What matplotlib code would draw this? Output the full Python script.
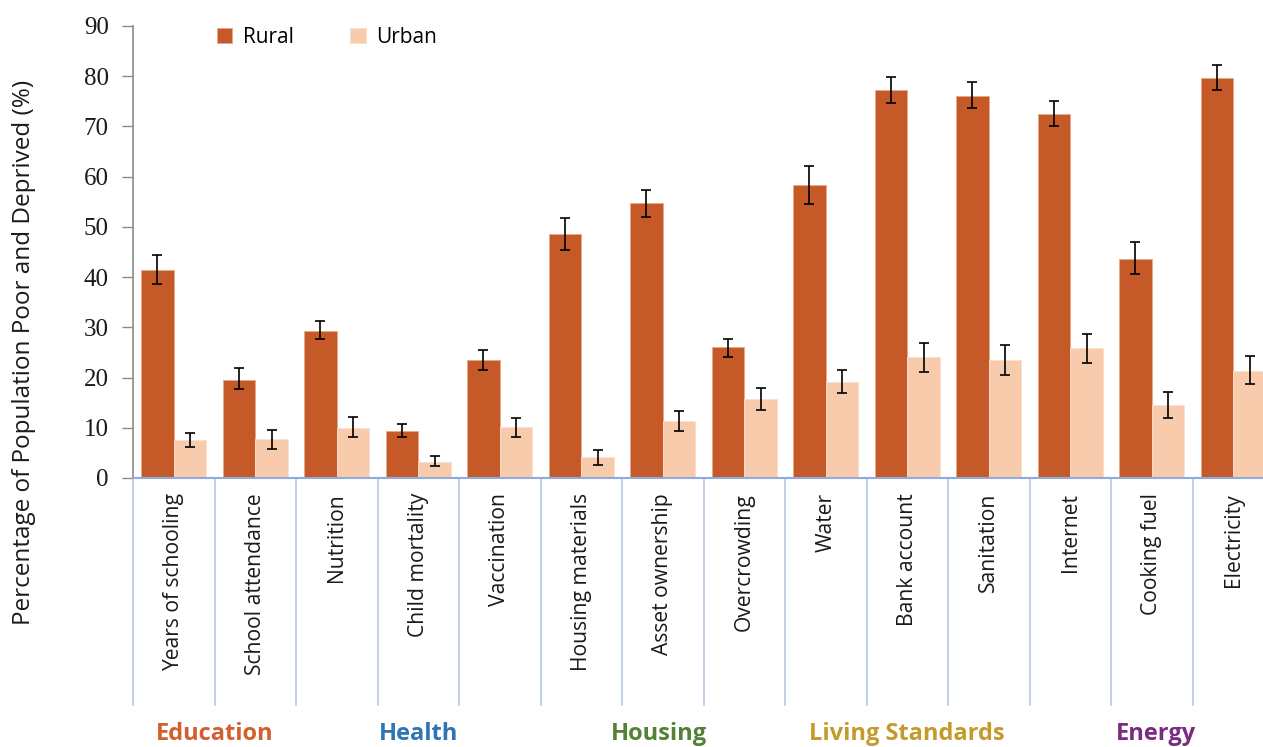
import numpy as np
import matplotlib.pyplot as plt
import matplotlib.transforms as mtransforms

# Deprivation indicators
categories = ["Years of schooling", "School attendance", "Nutrition", "Child mortality",
              "Vaccination", "Housing materials", "Asset ownership", "Overcrowding",
              "Water", "Bank account", "Sanitation", "Internet", "Cooking fuel", "Electricity"]

rural = [41.5, 19.6, 29.3, 9.3, 23.5, 48.5, 54.7, 26.0, 58.3, 77.3, 76.0, 72.4, 43.6, 79.6]
rural_lo = [38.7, 17.8, 27.6, 8.1, 21.5, 45.3, 51.9, 24.1, 54.5, 74.7, 73.6, 70.0, 40.6, 77.2]
rural_hi = [44.4, 21.9, 31.2, 10.8, 25.5, 51.8, 57.4, 27.7, 62.1, 79.9, 78.8, 75.0, 46.9, 82.2]

urban = [7.5, 7.8, 10.0, 3.2, 10.1, 4.2, 11.4, 15.7, 19.1, 24.0, 23.5, 25.8, 14.5, 21.4]
urban_lo = [6.1, 5.8, 8.1, 2.3, 8.2, 2.5, 9.4, 13.5, 17.0, 21.1, 20.5, 22.8, 12.0, 18.7]
urban_hi = [9.0, 9.5, 12.1, 4.3, 12.0, 5.6, 13.4, 18.0, 21.6, 26.8, 26.5, 28.7, 17.2, 24.3]

groups = ["Education", "Health", "Housing", "Living Standards", "Energy"]
group_pos = [0.5, 3.0, 5.95, 9.0, 12.05]
group_colors = ["#D0602E", "#2E75B6", "#548235", "#C49A2C", "#7B2C82"]

rural_color = "#C55A28"
urban_color = "#F8CBAD"

fig = plt.figure(figsize=(12.63, 7.47), dpi=100)
ax = fig.add_axes([133 / 1263, 1 - 478 / 747, 1141 / 1263, 452 / 747])

x = np.arange(len(categories))
w = 0.4
r = np.array(rural)
u = np.array(urban)
r_err = [r - np.array(rural_lo), np.array(rural_hi) - r]
u_err = [u - np.array(urban_lo), np.array(urban_hi) - u]

ax.bar(x - w / 2, r, w, color=rural_color, edgecolor="#E8A888", linewidth=0.6, label="Rural", zorder=2)
ax.bar(x + w / 2, u, w, color=urban_color, edgecolor="#FBE0CE", linewidth=0.6, label="Urban", zorder=2)
ax.errorbar(x - w / 2, r, yerr=r_err, fmt="none", ecolor="black", elinewidth=1.2,
            capsize=3.8, capthick=1.2, zorder=3)
ax.errorbar(x + w / 2, u, yerr=u_err, fmt="none", ecolor="black", elinewidth=1.2,
            capsize=3.8, capthick=1.2, zorder=3)

ax.set_xlim(-0.5, len(categories) - 0.5)
ax.set_ylim(0, 90)
ax.set_yticks(range(0, 91, 10))
ax.tick_params(axis="y", direction="out", length=8, width=1, color="#8C8C8C", pad=9.5)
for lbl in ax.get_yticklabels():
    lbl.set_fontfamily("Liberation Serif")
    lbl.set_fontsize(18)
    lbl.set_color("#1A1A1A")
ax.set_xticks([])

for s in ["top", "right"]:
    ax.spines[s].set_visible(False)
ax.spines["left"].set_color("#8C8C8C")
ax.spines["left"].set_linewidth(1.2)
ax.spines["bottom"].set_color("#8FAADC")
ax.spines["bottom"].set_linewidth(1.5)

# category separators running below the axis
trans = mtransforms.blended_transform_factory(ax.transData, ax.transAxes)
for b in np.arange(-0.5, len(categories) - 0.5, 1.0):
    ax.plot([b, b], [0, -0.503], transform=trans, color="#B4C3E6", lw=1.1, clip_on=False)

for xi, name in zip(x, categories):
    ax.text(xi, -0.033, name, transform=trans, rotation=90, ha="center", va="top",
            fontsize=15.2, family="Open Sans", color="#1A1A1A")

for gp, gname, gc in zip(group_pos, groups, group_colors):
    ax.text(gp, -0.567, gname, transform=trans, ha="center", va="center",
            fontsize=17, fontweight="bold", family="Open Sans", color=gc)

fig.text(24 / 1263, 1 - 352 / 747, "Percentage of Population Poor and Deprived (%)",
         rotation=90, ha="center", va="center", fontsize=17.5, family="Open Sans", color="#1A1A1A")

ax.legend(loc="upper left", bbox_to_anchor=(0.057, 1.04), ncol=2, frameon=False,
          prop={"family": "Open Sans", "size": 15}, handlelength=0.75, handleheight=0.75,
          columnspacing=2.7, handletextpad=0.5)

fig.savefig("out.png", dpi=100)
